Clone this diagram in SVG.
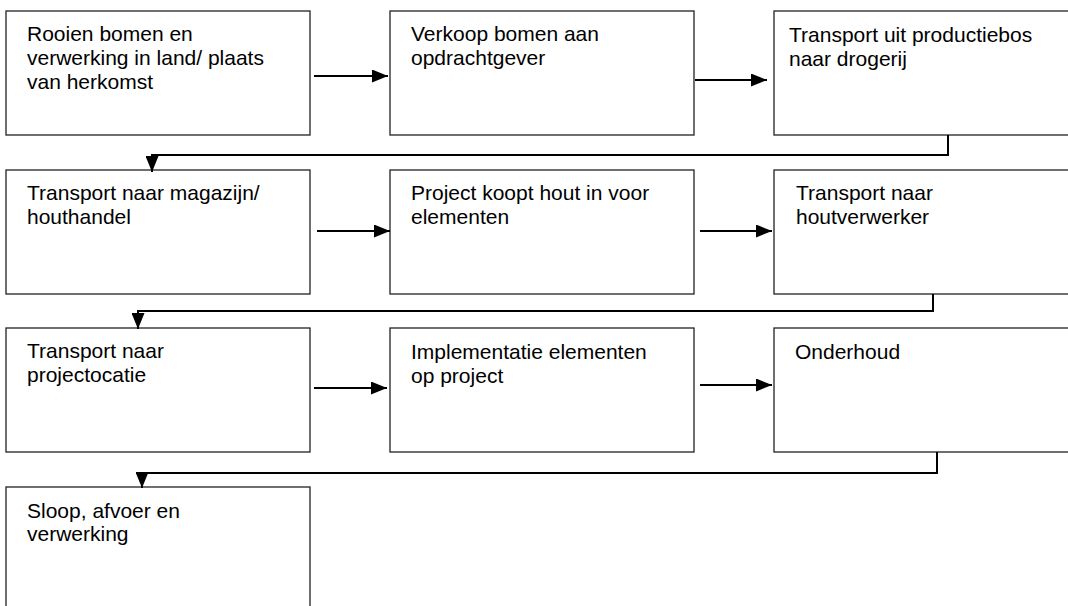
<svg xmlns="http://www.w3.org/2000/svg" width="1068" height="606" viewBox="0 0 1068 606">
<style>
.box{fill:#fff;stroke:#222;stroke-width:1.3}
.t{font-family:"Liberation Sans",Arial,sans-serif;font-size:21px;fill:#000}
.c{fill:none;stroke:#000;stroke-width:2}
</style>
<defs>
<marker id="ah" markerUnits="userSpaceOnUse" markerWidth="16" markerHeight="13" refX="16" refY="6.5" orient="auto">
<path d="M0,0 L16,6.5 L0,13 Z" fill="#000"/>
</marker>
</defs>
<rect width="1068" height="606" fill="#fff"/>
<g id="n1"><rect class="box" x="6" y="11" width="304" height="124"/><text class="t" x="27" y="41">Rooien bomen en<tspan x="27" y="65">verwerking in land/ plaats</tspan><tspan x="27" y="89">van herkomst</tspan></text></g>
<g id="n2"><rect class="box" x="390" y="11" width="304" height="124"/><text class="t" x="411" y="41">Verkoop bomen aan<tspan x="411" y="65">opdrachtgever</tspan></text></g>
<g id="n3"><rect class="box" x="774" y="11" width="304" height="124"/><text class="t" x="789" y="42">Transport uit productiebos<tspan x="789" y="66">naar drogerij</tspan></text></g>
<g id="n4"><rect class="box" x="6" y="170" width="304" height="124"/><text class="t" x="27" y="200">Transport naar magazijn/<tspan x="27" y="224">houthandel</tspan></text></g>
<g id="n5"><rect class="box" x="390" y="170" width="304" height="124"/><text class="t" x="411" y="200">Project koopt hout in voor<tspan x="411" y="224">elementen</tspan></text></g>
<g id="n6"><rect class="box" x="774" y="170" width="304" height="124"/><text class="t" x="796" y="200">Transport naar<tspan x="796" y="224">houtverwerker</tspan></text></g>
<g id="n7"><rect class="box" x="6" y="328" width="304" height="124"/><text class="t" x="27" y="358">Transport naar<tspan x="27" y="382">projectocatie</tspan></text></g>
<g id="n8"><rect class="box" x="390" y="328" width="304" height="124"/><text class="t" x="411" y="359">Implementatie elementen<tspan x="411" y="383">op project</tspan></text></g>
<g id="n9"><rect class="box" x="774" y="328" width="304" height="124"/><text class="t" x="795" y="359">Onderhoud</text></g>
<g id="n10"><rect class="box" x="6" y="487" width="304" height="140"/><text class="t" x="27" y="518">Sloop, afvoer en<tspan x="27" y="541">verwerking</tspan></text></g>
<g id="connectors">
<path class="c" d="M314,76 H388" marker-end="url(#ah)"/>
<path class="c" d="M695,80 H767" marker-end="url(#ah)"/>
<path class="c" d="M948,135 V155 H152 V172" marker-end="url(#ah)"/>
<path class="c" d="M317,231 H390" marker-end="url(#ah)"/>
<path class="c" d="M700,231 H772" marker-end="url(#ah)"/>
<path class="c" d="M933,294 V311 H138 V329" marker-end="url(#ah)"/>
<path class="c" d="M314,388 H387" marker-end="url(#ah)"/>
<path class="c" d="M700,385 H772" marker-end="url(#ah)"/>
<path class="c" d="M937,452 V473 H142 V488" marker-end="url(#ah)"/>
</g>
</svg>
